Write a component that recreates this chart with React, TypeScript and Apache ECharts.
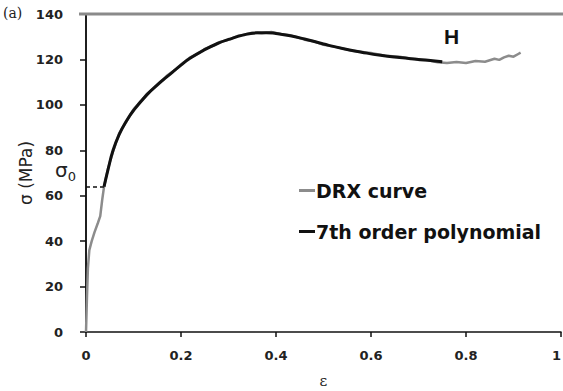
import React, { useEffect, useRef } from "react";
import * as echarts from "echarts";

const xTicks = [0, 0.2, 0.4, 0.6, 0.8, 1];
const yTicks = [0, 20, 40, 60, 80, 100, 120, 140];
const sigma0 = 64;
const sigma0Strain = 0.04;

const drxCurve: [number, number][] = [
  [0, 0], [0.002, 15], [0.004, 28], [0.007, 36], [0.012, 40], [0.018, 44], [0.025, 48],
  [0.03, 51], [0.034, 58], [0.038, 64], [0.047, 72.5], [0.057, 79.5], [0.07, 87.5],
  [0.086, 93], [0.1, 98], [0.115, 101.5], [0.128, 104.8], [0.15, 108.5], [0.17, 112.8],
  [0.19, 115.8], [0.2, 117.8], [0.219, 120.9], [0.235, 122.4], [0.25, 124.6], [0.27, 126.2],
  [0.28, 127.6], [0.3, 128.6], [0.32, 130.4], [0.33, 130.8], [0.35, 131.8], [0.37, 131.5],
  [0.39, 132.1], [0.41, 131.2], [0.43, 130.7], [0.46, 128.7], [0.48, 128.0], [0.5, 126.4],
  [0.53, 125.3], [0.56, 123.8], [0.6, 122.8], [0.63, 121.6], [0.66, 121.2], [0.7, 119.8],
  [0.72, 119.6], [0.74, 118.8], [0.76, 118.4], [0.78, 118.9], [0.8, 118.4], [0.82, 119.3],
  [0.84, 119.0], [0.86, 120.3], [0.87, 119.8], [0.88, 120.9], [0.89, 121.6], [0.9, 121.2],
  [0.91, 122.4], [0.915, 123.0],
];

const polynomial: [number, number][] = [
  [0.038, 64], [0.047, 72], [0.057, 80], [0.07, 87], [0.086, 93.2], [0.1, 97.5],
  [0.128, 104.4], [0.15, 108.8], [0.17, 112.3], [0.2, 117.5], [0.219, 120.5], [0.25, 124.3],
  [0.28, 127.3], [0.3, 128.8], [0.33, 130.7], [0.36, 131.7], [0.38, 131.8], [0.4, 131.4],
  [0.43, 130.4], [0.46, 129], [0.5, 126.8], [0.54, 124.8], [0.58, 123.2], [0.62, 121.8],
  [0.66, 120.8], [0.7, 120], [0.73, 119.4], [0.75, 119],
];

const BOLD = "'DejaVu Sans', sans-serif";
const SERIF = "'DejaVu Serif', serif";

export default function App() {
  const ref = useRef<HTMLDivElement>(null);
  useEffect(() => {
    if (!ref.current) return;
    const chart = echarts.init(ref.current, undefined, { renderer: "svg" });
    chart.setOption({
      animation: false,
      backgroundColor: "#fff",
      grid: { left: 86, right: 2, top: 14, bottom: 59, outerBoundsMode: "none", containLabel: false },
      legend: {
        orient: "vertical",
        left: 294,
        top: 176,
        itemGap: 22,
        itemWidth: 16,
        itemHeight: 3,
        icon: "rect",
        textStyle: { fontFamily: BOLD, fontWeight: "bold", fontSize: 19, color: "#111", padding: [0, 0, 0, -4] },
        data: ["DRX curve", "7th order polynomial"],
      },
      xAxis: [
        {
          type: "value",
          min: 0,
          max: 1,
          interval: 0.2,
          name: "ε",
          nameLocation: "middle",
          nameGap: 41,
          nameTextStyle: { fontFamily: SERIF, fontSize: 15, color: "#222" },
          axisLine: { show: true, onZero: false, lineStyle: { color: "#111", width: 1.5 } },
          axisTick: { show: true, length: 5, lineStyle: { color: "#111", width: 1.5 } },
          splitLine: { show: false },
          axisLabel: {
            fontFamily: BOLD, fontWeight: "bold", fontSize: 13, color: "#222", margin: 17,
            alignMaxLabel: "right",
            formatter: (v: number) => String(Number(v.toFixed(1))),
          },
        },
      ],
      yAxis: [
        {
          type: "value",
          min: 0,
          max: 140,
          interval: 20,
          name: "σ (MPa)",
          nameLocation: "middle",
          nameGap: 52,
          nameMoveOverlap: false,
          nameTextStyle: { fontFamily: BOLD, fontSize: 17, color: "#222" },
          axisLine: { show: true, onZero: false, lineStyle: { color: "#111", width: 1.5 } },
          axisTick: { show: true, length: 6, lineStyle: { color: "#111", width: 1.5 } },
          splitLine: { show: false },
          axisLabel: { fontFamily: BOLD, fontWeight: "bold", fontSize: 13, color: "#222", margin: 23 },
        },
        {
          type: "value",
          position: "right",
          min: 0,
          max: 140,
          axisLine: { show: true, lineStyle: { color: "#111", width: 1.5 } },
          axisTick: { show: false },
          axisLabel: { show: false },
          splitLine: { show: false },
        },
      ],
      graphic: [
        { type: "line", shape: { x1: 79, y1: 14, x2: 563, y2: 14 }, style: { stroke: "#8a8a8a", lineWidth: 3 }, z: 10 },
        { type: "text", left: 3, top: 6, style: { text: "(a)", font: `14px ${SERIF}`, fill: "#222" } },
        { type: "text", left: 444, top: 26, style: { text: "H", font: "bold 21px 'Liberation Sans', Arial, sans-serif", fill: "#111" } },
        {
          type: "text",
          left: 55,
          top: 160,
          style: {
            text: "{s|σ}{b|0}",
            rich: {
              s: { font: `20px ${BOLD}`, fill: "#222" },
              b: { font: `13px ${BOLD}`, fill: "#222", padding: [12, 0, 0, 0] },
            },
          },
        },
      ],
      series: [
        {
          name: "DRX curve",
          type: "line",
          data: drxCurve,
          showSymbol: false,
          color: "#8c8c8c",
          lineStyle: { color: "#8c8c8c", width: 2.5 },
          z: 2,
        },
        {
          name: "7th order polynomial",
          type: "line",
          data: polynomial,
          showSymbol: false,
          smooth: true,
          color: "#111",
          lineStyle: { color: "#111", width: 3 },
          z: 3,
          markLine: {
            silent: true,
            symbol: "none",
            label: { show: false },
            lineStyle: { color: "#111", type: [4, 3], width: 1.5 },
            data: [[{ coord: [0, sigma0] }, { coord: [sigma0Strain, sigma0] }]],
          },
        },
      ],
    });
    return () => chart.dispose();
  }, []);
  return (
    <div style={{ position: "absolute", left: 0, top: 0, width: 563, height: 391, overflow: "hidden" }}>
      <div ref={ref} style={{ width: 563, height: 391 }} />
    </div>
  );
}
